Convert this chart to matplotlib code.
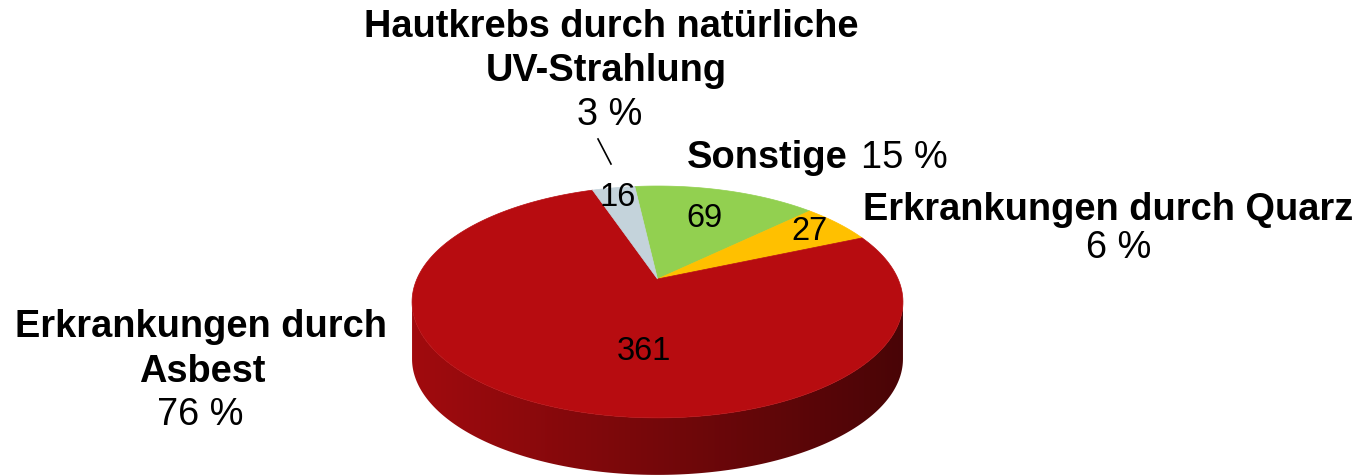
import numpy as np
import matplotlib.pyplot as plt
from matplotlib.patches import Polygon

# data (clockwise from the top)
kategorien = ['Sonstige', 'Erkrankungen durch Quarz', 'Erkrankungen durch Asbest',
              'Hautkrebs durch natürliche UV-Strahlung']
anzahl = [69, 27, 361, 16]
prozent = ['15 %', '6 %', '76 %', '3 %']
farben = ['#92D050', '#FFC000', '#B70C10', '#C4D3DB']

# geometry of the 3D pie (pixels)
cx, cy = 657.5, 279.0
A, B, k = 240.6, 111.4, 0.198
tiefe = 57
start = 96.5
label_r = [0.65, 0.83, 0.58, 0.88]
label_shift = [0, 0, 19, 0]

W, H = 1359, 476
fig = plt.figure(figsize=(W / 100, H / 100), dpi=100)
ax = fig.add_axes([0, 0, 1, 1])
ax.set_xlim(0, W)
ax.set_ylim(H, 0)
ax.axis('off')


def proj(t, r=1.0, dz=0.0):
    t = np.radians(t)
    u = r * np.cos(t)
    v = r * np.sin(t)
    w = 1 + k * v
    return cx + A * u / w, cy - B * v / w + dz


anteile = np.array(anzahl) / sum(anzahl) * 360
grenzen = start - np.concatenate([[0], np.cumsum(anteile)])

# visible front side: between the two horizontal extremes
front_a = 180 + np.degrees(np.arcsin(k))
front_b = 360 - np.degrees(np.arcsin(k))

for i in range(len(anzahl)):
    t1, t2 = grenzen[i + 1], grenzen[i]
    # shift into [front_a - 360, ...] to intersect with front arc
    for off in (-360, 0, 360):
        a = max(t1 + off, front_a)
        b = min(t2 + off, front_b)
        if b <= a:
            continue
        ts = np.linspace(a, b, 200)
        xt, yt = proj(ts)
        xb, yb = proj(ts[::-1], dz=tiefe)
        pts = np.column_stack([np.concatenate([xt, xb]), np.concatenate([yt, yb])])
        poly = Polygon(pts, closed=True, facecolor='none', edgecolor='none')
        ax.add_patch(poly)
        basis = np.array(plt.matplotlib.colors.to_rgb(farben[i]))
        xs = np.linspace(0, 1, 400)
        fak = 0.88 - 0.48 * xs
        grad = (basis[None, :] * fak[:, None])[None, :, :]
        xl, _ = proj(front_a)
        xr, _ = proj(front_b)
        im = ax.imshow(grad, extent=[xl, xr, cy + B * 1.3 + tiefe, cy - 10],
                       aspect='auto', interpolation='bilinear', zorder=1)
        im.set_clip_path(poly)

# top face
for i in range(len(anzahl)):
    ts = np.linspace(grenzen[i], grenzen[i + 1], 200)
    xs, ys = proj(ts)
    pts = np.column_stack([np.concatenate([[cx], xs]), np.concatenate([[cy], ys])])
    ax.add_patch(Polygon(pts, closed=True, facecolor=farben[i], edgecolor=farben[i],
                         linewidth=0.5, zorder=2))
    mitte = (grenzen[i] + grenzen[i + 1]) / 2 + label_shift[i]
    lx, ly = proj(mitte, label_r[i])
    ax.text(lx, ly, str(anzahl[i]), ha='center', va='center', fontsize=23.5,
            family='Liberation Sans', zorder=3)

fett = dict(fontsize=27.4, family='Liberation Sans', fontweight='bold', va='baseline')
normal = dict(fontsize=27.4, family='Liberation Sans', va='baseline')

# Sonstige
ax.text(848, 168, 'Sonstige', ha='right', **fett)
ax.text(861, 168, prozent[0], ha='left', **normal)
# Quarz
ax.text(1108, 220, 'Erkrankungen durch Quarz', ha='center', **fett)
ax.text(1119, 258, prozent[1], ha='center', **normal)
# Asbest
ax.text(201, 337, 'Erkrankungen durch', ha='center', **fett)
ax.text(202, 382, 'Asbest', ha='center', **fett)
ax.text(200, 425, prozent[2], ha='center', **normal)
# Hautkrebs
ax.text(611, 37, 'Hautkrebs durch natürliche', ha='center', **fett)
ax.text(606, 81, 'UV-Strahlung', ha='center', **fett)
ax.text(610, 125, prozent[3], ha='center', **normal)
ax.plot([598, 611], [139, 164], color='black', linewidth=1.2)

fig.savefig('out.png', dpi=100)
